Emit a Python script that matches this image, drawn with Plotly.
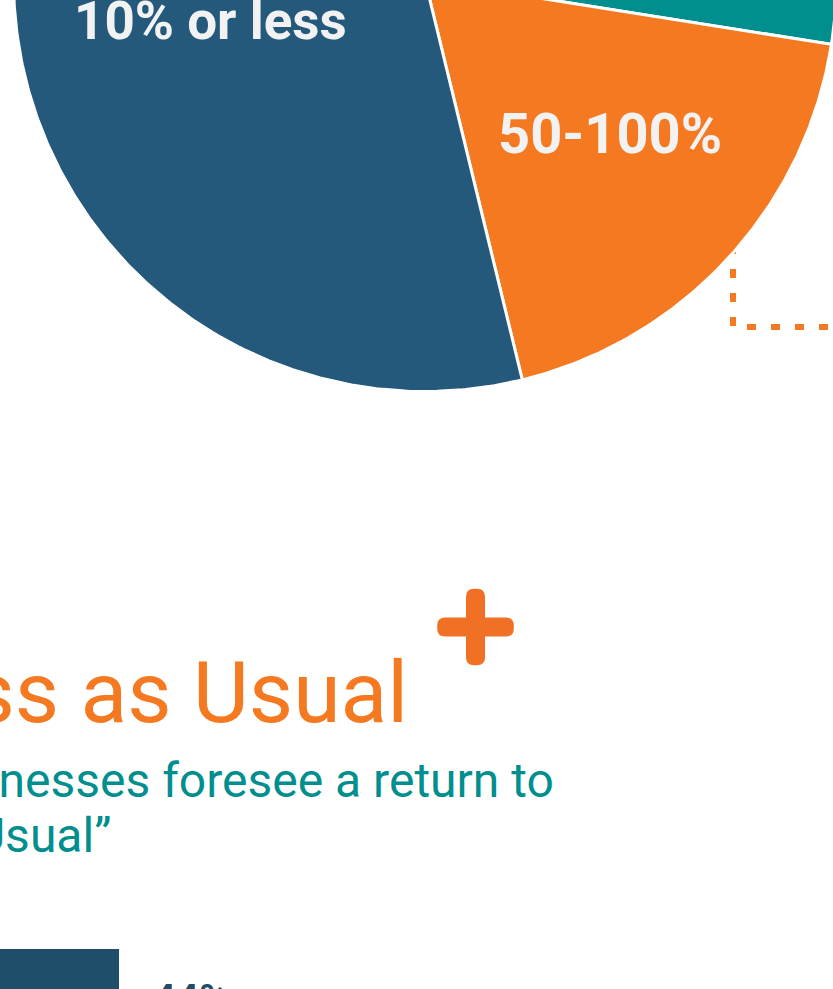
import numpy as np
import plotly.graph_objects as go

W, H = 833, 989
OFF = 0  # page body margin is removed below, so axis units = screen pixels

# ---- data ----
pie_labels = ["11-49%", "50-100%", "10% or less"]      # clockwise from 12 o'clock
pie_values = [27.5, 18.7, 53.8]
pie_colors = ["#008e8e", "#f47920", "#25597b"]

bar_labels = ["44%"]
bar_values = [44]

title_text = "Business as Usual"
subtitle_lines = ["Most businesses foresee a return to", "\u201cBusiness as Usual\u201d"]

BLUE_DARK = "#1f4e6b"
ORANGE = "#f47920"
TEAL = "#008e8e"
LABEL = "#f2f2f2"

# ---- pie geometry (in pixel-like axis units) ----
CX, CY, R = 425, -20, 411.5

fig = go.Figure()

total = float(sum(pie_values))
start = 0.0
for lab, val, col in zip(pie_labels, pie_values, pie_colors):
    a0 = start
    a1 = start + val / total * 360.0
    th = np.radians(np.linspace(a0, a1, int((a1 - a0) * 2) + 2))
    xs = np.concatenate([[CX], CX + R * np.sin(th), [CX]])
    ys = np.concatenate([[CY], CY - R * np.cos(th), [CY]])
    fig.add_trace(go.Scatter(
        x=xs, y=ys, mode="lines", fill="toself", fillcolor=col,
        line=dict(color="white", width=3), name=lab, hoverinfo="skip",
        xaxis="x", yaxis="y"))
    start = a1

# ---- horizontal bar (next section) ----
fig.add_trace(go.Bar(
    x=bar_values, y=bar_labels, orientation="h", width=0.8,
    marker=dict(color=BLUE_DARK, line=dict(width=0)),
    xaxis="x2", yaxis="y2", hoverinfo="skip"))


def P(x, y):
    return dict(x=(x - OFF) / W, y=1 - (y - OFF) / H, xref="paper", yref="paper")


ann = []
# slice labels
ann.append(dict(**P(210, 21), text="<b>10% or less</b>", showarrow=False,
                xanchor="center", yanchor="middle",
                font=dict(family="Roboto", size=53, color=LABEL)))
ann.append(dict(**P(610, 134), text="<b>50-100%</b>", showarrow=False,
                xanchor="center", yanchor="middle",
                font=dict(family="Roboto", size=56, color=LABEL)))
# title
ann.append(dict(**P(410, 692), text=title_text, showarrow=False,
                xanchor="right", yanchor="middle",
                font=dict(family="Roboto", size=86, color=ORANGE)))
# subtitle
ann.append(dict(**P(556, 780), text=subtitle_lines[0], showarrow=False,
                xanchor="right", yanchor="middle",
                font=dict(family="Roboto", size=48, color=TEAL)))
ann.append(dict(**P(113, 835), text=subtitle_lines[1], showarrow=False,
                xanchor="right", yanchor="middle",
                font=dict(family="Roboto", size=48, color=TEAL)))
# bar value label
ann.append(dict(**P(151, 974), text="<b>44%</b>", showarrow=False,
                xanchor="left", yanchor="top",
                font=dict(family="Roboto", size=40, color=BLUE_DARK)))


def rrect(x0, y0, x1, y1, r):
    return (f"M {x0+r},{y0} L {x1-r},{y0} Q {x1},{y0} {x1},{y0+r} "
            f"L {x1},{y1-r} Q {x1},{y1} {x1-r},{y1} L {x0+r},{y1} "
            f"Q {x0},{y1} {x0},{y1-r} L {x0},{y0+r} Q {x0},{y0} {x0+r},{y0} Z")


PX, PY, ARM, HALF = 475.5, 627, 38.3, 9.5
shapes = [
    # dotted callout connector (under the pie)
    dict(type="path", xref="x", yref="y", layer="below",
         path="M 733,245 L 733,327 L 845,327",
         line=dict(color=ORANGE, width=6, dash="9px,15px")),
    # plus sign
    dict(type="path", xref="x", yref="y",
         path=rrect(PX - ARM, PY - HALF, PX + ARM, PY + HALF, 8),
         fillcolor="#f07126", line=dict(width=0)),
    dict(type="path", xref="x", yref="y",
         path=rrect(PX - HALF, PY - ARM, PX + HALF, PY + ARM, 8),
         fillcolor="#f07126", line=dict(width=0)),
]

# bar axes: value 44 ends at screen x=119, bar centre at screen y=997
fig.update_layout(
    width=W, height=H,
    margin=dict(l=0, r=0, t=0, b=0, pad=0),
    paper_bgcolor="white", plot_bgcolor="rgba(0,0,0,0)",
    showlegend=False,
    xaxis=dict(range=[OFF, W + OFF], visible=False, fixedrange=True),
    yaxis=dict(range=[H + OFF, OFF], visible=False, fixedrange=True),
    xaxis2=dict(range=[31.5, 119], overlaying="x", visible=False, fixedrange=True),
    yaxis2=dict(range=[-0.067, -8.31], overlaying="y", visible=False,
                type="category", fixedrange=True),
    annotations=ann,
    shapes=shapes,
    hovermode=False,
)

fig.write_html(
    "out.html",
    config={"displayModeBar": False, "staticPlot": True},
    post_script="document.body.style.margin='0';document.body.style.overflow='hidden';",
)
